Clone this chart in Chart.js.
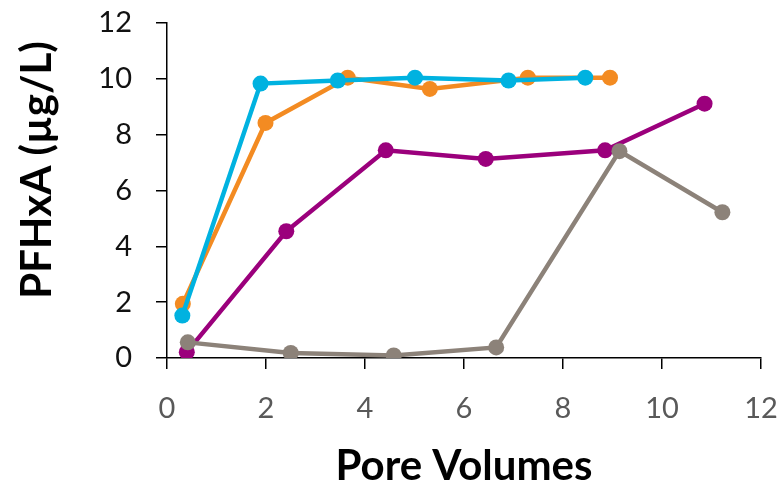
<!DOCTYPE html>
<html>
<head>
<meta charset="utf-8">
<script src="https://cdn.jsdelivr.net/npm/chart.js@4.4.1/dist/chart.umd.min.js"></script>
<style>
  html, body { margin: 0; padding: 0; background: #fff; }
  #wrap { width: 782px; height: 488px; position: relative; }
</style>
</head>
<body>
<div id="wrap"><canvas id="chart"></canvas></div>
<script>
// pore volumes (x) and PFHxA concentration (y) for each column run
const blueX = [0.31, 1.89, 3.45, 5.01, 6.90, 8.45];
const blueY = [1.52, 9.83, 9.94, 10.04, 9.94, 10.04];

const orangeX = [0.32, 1.99, 3.65, 5.31, 7.29, 8.95];
const orangeY = [1.94, 8.42, 10.04, 9.64, 10.04, 10.04];

const purpleX = [0.40, 2.41, 4.42, 6.44, 8.85, 10.86];
const purpleY = [0.21, 4.54, 7.44, 7.13, 7.44, 9.11];

const greyX = [0.42, 2.50, 4.58, 6.65, 9.14, 11.22];
const greyY = [0.56, 0.18, 0.09, 0.38, 7.41, 5.22];

const xTicks = [0, 2, 4, 6, 8, 10, 12];
const yTicks = [0, 2, 4, 6, 8, 10, 12];

function pairs(xs, ys) {
    return xs.map((x, i) => ({ x: x, y: ys[i] }));
}

function series(xs, ys, color) {
    return {
        data: pairs(xs, ys),
        borderColor: color,
        backgroundColor: color,
        borderWidth: 4.5,
        pointRadius: 8,
        pointHoverRadius: 8,
        pointBorderWidth: 0,
        tension: 0
    };
}

// axis titles drawn by hand so they sit where they should
const axisTitles = {
    id: 'axisTitles',
    afterDraw(chart) {
        const ctx = chart.ctx;
        ctx.save();
        ctx.fillStyle = '#000';
        ctx.font = 'bold 42px Lato';
        ctx.textAlign = 'center';
        ctx.textBaseline = 'middle';
        ctx.fillText('Pore Volumes', 464, 466);
        ctx.translate(37, 170);
        ctx.rotate(-Math.PI / 2);
        ctx.fillText('PFHxA (µg/L)', 0, 0);
        ctx.restore();
    }
};

// drop the extra room chart.js keeps for the end labels
function noLabelPadding(axis) {
    axis.paddingTop = 0;
    axis.paddingRight = 0;
    axis.paddingLeft = 0;
    axis.paddingBottom = 0;
}

const ctx = document.getElementById('chart').getContext('2d');
new Chart(ctx, {
    type: 'line',
    data: {
        datasets: [
            series(greyX, greyY, '#8C8279'),
            series(purpleX, purpleY, '#9B007C'),
            series(blueX, blueY, '#00B2E0'),
            series(orangeX, orangeY, '#F38B22')
        ]
    },
    options: {
        responsive: true,
        maintainAspectRatio: false,
        animation: false,
        layout: { padding: { top: 23, right: 21, left: 0, bottom: 0 } },
        plugins: { legend: { display: false }, tooltip: { enabled: false } },
        scales: {
            x: {
                type: 'linear',
                min: 0,
                max: 12,
                afterBuildTicks: axis => { axis.ticks = xTicks.map(v => ({ value: v })); },
                afterFit: axis => { axis.height = 130; noLabelPadding(axis); },
                grid: { drawOnChartArea: false, drawTicks: true, tickLength: 11, color: '#000', lineWidth: 1.5 },
                border: { color: '#000', width: 1.5 },
                ticks: { color: '#595959', font: { family: 'Lato', size: 29 }, padding: 22, maxRotation: 0 }
            },
            y: {
                type: 'linear',
                min: 0,
                max: 12,
                afterBuildTicks: axis => { axis.ticks = yTicks.map(v => ({ value: v })); },
                afterFit: axis => { axis.width = 167; noLabelPadding(axis); },
                grid: { drawOnChartArea: false, drawTicks: true, tickLength: 11, color: '#000', lineWidth: 1.5 },
                border: { color: '#000', width: 1.5 },
                ticks: { color: '#111', font: { family: 'Lato', size: 29 }, padding: 24 }
            }
        }
    },
    plugins: [axisTitles]
});
</script>
</body>
</html>
